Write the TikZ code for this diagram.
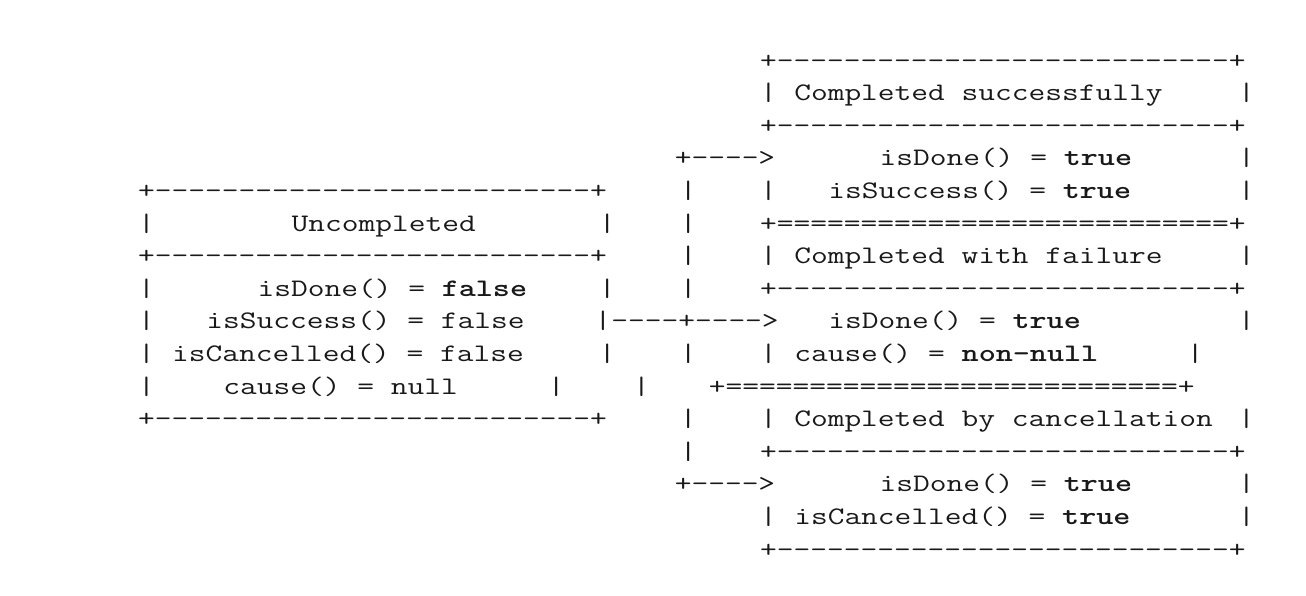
\documentclass[tikz,border=0pt]{standalone}
\newcommand\rpt[2]{\foreach\k in {1,...,#1}{#2\kern0pt}}
\begin{document}
\begin{tikzpicture}[x=6.615pt, y=-16.3pt, xscale=1.2902, transform shape,
    ascii/.style={anchor=base west, inner sep=0pt, text=black!90,
      font=\ttfamily\fontsize{12.6pt}{14pt}\selectfont}]
    \useasboundingbox (-6.5,-2.086) rectangle (70.01,16.166);

    % Completed successfully
    \node[ascii] (s0) at (38,0) {+\rpt{27}{-}+};
    \node[ascii] (s1a) at (38,1) {|};
    \node[ascii] (s1b) at (40,1) {Completed successfully};
    \node[ascii] (s1c) at (66,1) {|};
    \node[ascii] (s2) at (38,2) {+\rpt{27}{-}+};
    \node[ascii] (s3a) at (33,3) {+\rpt{4}{-}>};
    \node[ascii] (s3b) at (45,3) {isDone() = \textbf{true}};
    \node[ascii] (s3c) at (66,3) {|};
    \node[ascii] (s4b) at (38,4) {|};
    \node[ascii] (s4c) at (42,4) {isSuccess() = \textbf{true}};
    \node[ascii] (s4d) at (66,4) {|};

    % Uncompleted
    \begin{scope}[shift={(0.56,0)}]
    \node[ascii] (u4) at (1,4) {+\rpt{26}{-}+};
    \node[ascii] (u5a) at (1,5) {|};
    \node[ascii] (u5b) at (10,5) {Uncompleted};
    \node[ascii] (u5c) at (28,5) {|};
    \node[ascii] (u6) at (1,6) {+\rpt{26}{-}+};
    \node[ascii] (u7a) at (1,7) {|};
    \node[ascii] (u7b) at (8,7) {isDone() = \textbf{false}};
    \node[ascii] (u7c) at (28,7) {|};
    \node[ascii] (u8a) at (1,8) {|};
    \node[ascii] (u8b) at (5,8) {isSuccess() = false};
    \node[ascii] (u9a) at (1,9) {|};
    \node[ascii] (u9b) at (3,9) {isCancelled() = false};
    \node[ascii] (u9c) at (28,9) {|};
    \node[ascii] (u10a) at (1,10) {|};
    \node[ascii] (u10b) at (6,10) {cause() = null};
    \node[ascii] (u10c) at (25,10) {|};
    \node[ascii] (u10d) at (30,10) {|};
    \node[ascii] (u11) at (1,11) {+\rpt{26}{-}+};
    \end{scope}

    % vertical run of the fork
    \begin{scope}[shift={(0.3,0)}]
    \node[ascii] (v4) at (33,4) {|};
    \node[ascii] (v5) at (33,5) {|};
    \node[ascii] (v6) at (33,6) {|};
    \node[ascii] (v7) at (33,7) {|};
    \node[ascii] (u8c) at (28,8) {|\rpt{4}{-}+\rpt{4}{-}>};
    \node[ascii] (v9) at (33,9) {|};
    \node[ascii] (v11) at (33,11) {|};
    \node[ascii] (v12) at (33,12) {|};
    \end{scope}

    % Completed with failure
    \node[ascii] (f5b) at (38,5) {+\rpt{27}{=}+};
    \node[ascii] (f6b) at (38,6) {|};
    \node[ascii] (f6c) at (40,6) {Completed with failure};
    \node[ascii] (f6d) at (66,6) {|};
    \node[ascii] (f7b) at (38,7) {+\rpt{27}{-}+};
    \node[ascii] (f8a) at (42,8) {isDone() = \textbf{true}};
    \node[ascii] (f8b) at (66,8) {|};
    \node[ascii] (f9b) at (38,9) {|};
    \node[ascii] (f9c) at (40,9) {cause() = \textbf{non-null}};
    \node[ascii] (f9d) at (63,9) {|};
    \node[ascii] (f10b) at (35,10) {+\rpt{27}{=}+};

    % Completed by cancellation
    \node[ascii] (c11b) at (38,11) {|};
    \node[ascii] (c11c) at (40,11) {Completed by cancellation};
    \node[ascii] (c11d) at (66,11) {|};
    \node[ascii] (c12b) at (38,12) {+\rpt{27}{-}+};
    \node[ascii] (c13a) at (33,13) {+\rpt{4}{-}>};
    \node[ascii] (c13b) at (45,13) {isDone() = \textbf{true}};
    \node[ascii] (c13c) at (66,13) {|};
    \node[ascii] (c14a) at (38,14) {|};
    \node[ascii] (c14b) at (40,14) {isCancelled() = \textbf{true}};
    \node[ascii] (c14c) at (66,14) {|};
    \node[ascii] (c15) at (38,15) {+\rpt{27}{-}+};
\end{tikzpicture}
\end{document}
